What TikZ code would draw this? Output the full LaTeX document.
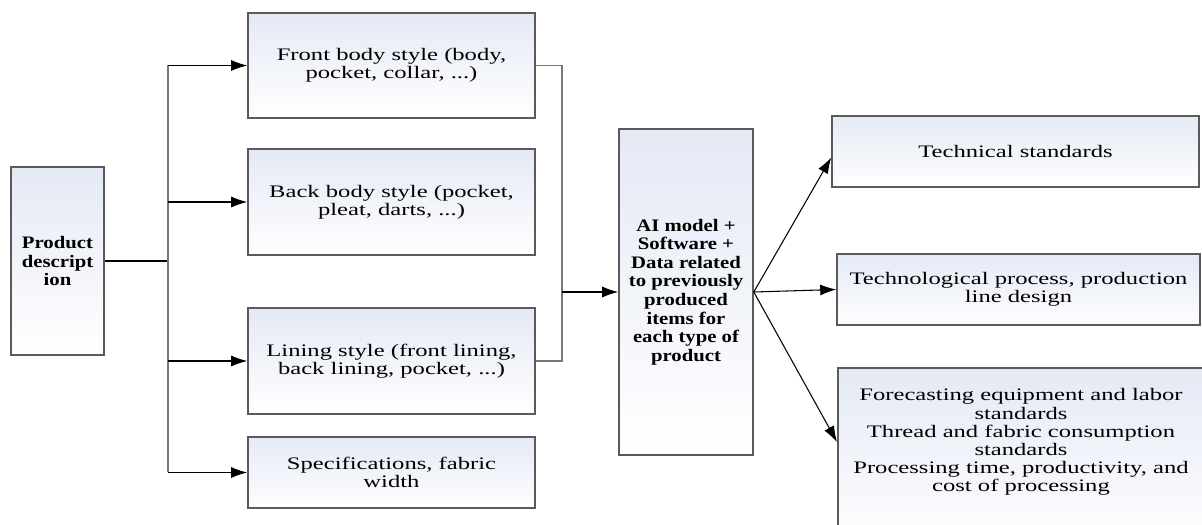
\documentclass[tikz,border=0pt]{standalone}
\usepackage{fontspec}
\setmainfont{Liberation Serif}[FakeStretch=1.4, BoldFeatures={FakeStretch=1.18}]
\usetikzlibrary{arrows.meta}
\definecolor{boxblue}{RGB}{228,233,245}
\definecolor{edgegray}{RGB}{90,90,90}
\definecolor{linegray}{RGB}{120,120,120}

\begin{document}
\begin{tikzpicture}[x=0.2mm, y=-0.2mm,
      every node/.style = {align=center, font=\fontsize{10}{10.3}\selectfont},
      box/.style = {shape=rectangle, draw=edgegray, line width=0.9pt,
        top color=boxblue, bottom color=white},
      link/.style = {line width=0.6pt},
      trunk/.style = {draw=linegray, line width=1pt},
      arr/.style = {link, -{Latex[length=3.2mm,width=2.2mm]}}]
  \useasboundingbox (0,0) rectangle (1202,525);

  % input side
  \node[box, minimum width=18.6mm, minimum height=37.6mm,
    font=\fontsize{10}{10.6}\selectfont\bfseries] (prod) at (57.5,261) {Product\\descript\\ion};
  \node[box, minimum width=57.4mm, minimum height=21mm] (front) at (391.5,65.5)
    {Front body style (body,\\pocket, collar, ...)};
  \node[box, minimum width=57.4mm, minimum height=21.2mm] (back) at (391.5,202)
    {Back body style (pocket,\\pleat, darts, ...)};
  \node[box, minimum width=57.4mm, minimum height=21.2mm] (lining) at (391.5,361)
    {Lining style (front lining,\\back lining, pocket, ...)};
  \node[box, minimum width=57.4mm, minimum height=14.2mm] (specs) at (391.5,472.5)
    {Specifications, fabric\\width};

  % model
  \node[box, minimum width=26.8mm, minimum height=65.2mm,
    font=\fontsize{10}{10.6}\selectfont\bfseries] (ai) at (686,292)
    {AI model +\\Software +\\Data related\\to previously\\produced\\items for\\each type of\\product};

  % outputs
  \node[box, minimum width=73.4mm, minimum height=14.2mm] (tech) at (1015.5,151.5)
    {Technical standards};
  \node[box, minimum width=72.6mm, minimum height=14.2mm] (techno) at (1018.5,289.5)
    {Technological process, production\\line design};
  \node[box, minimum width=74mm, minimum height=36mm, anchor=north west] (fore) at (837,367) {};
  \node (foretext) at (1021,442)
    {Forecasting equipment and labor\\standards\\Thread and fabric consumption\\standards\\Processing time, productivity, and\\cost of processing};

  % connectors
  \coordinate (split) at (168,261);
  \coordinate (join) at (562,292);
  \draw[link] (prod.east) -- (split);
  \draw[trunk] (split |- front.west) -- (split |- specs.west);
  \foreach \part in {front,back,lining,specs}
    \draw[arr] (split |- \part.west) -- (\part.west);
  \draw[trunk] (front.east) -| (join |- lining.east) -- (lining.east);
  \draw[arr] (join) -- (ai.west);
  \draw[arr] (ai.east) -- ([yshift=-1.2mm]tech.west);
  \draw[arr] (ai.east) -- (techno.west);
  \draw[arr] (ai.east) -- (fore.west |- foretext);
\end{tikzpicture}
\end{document}
